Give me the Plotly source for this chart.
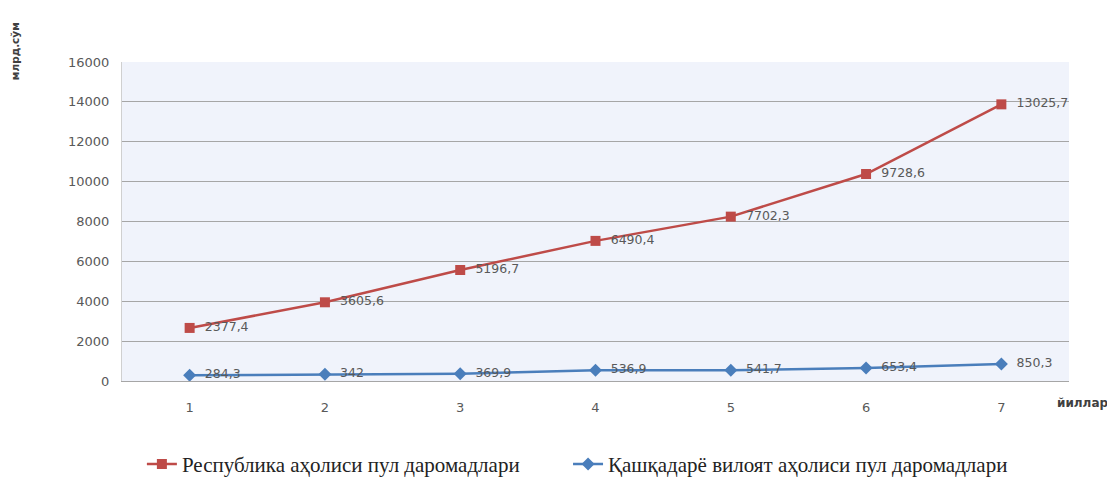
import plotly.graph_objects as go

years = [1, 2, 3, 4, 5, 6, 7]
republic = [2377.4, 3605.6, 5196.7, 6490.4, 7702.3, 9728.6, 13025.7]
region = [284.3, 342, 369.9, 536.9, 541.7, 653.4, 850.3]
name_rep = "Республика аҳолиси пул даромадлари"
name_reg = "Қашқадарё вилоят аҳолиси пул даромадлари"
y_ticks = [0, 2000, 4000, 6000, 8000, 10000, 12000, 14000, 16000]


def fmt(v):
    s = ("%.1f" % v).rstrip("0").rstrip(".")
    return "\u00a0\u00a0" + s.replace(".", ",")


fig = go.Figure()
fig.add_trace(go.Scatter(
    x=years, y=region, name=name_reg, stackgroup="one", fill="none",
    mode="lines+markers+text",
    line=dict(color="#4A7EBB", width=2.5),
    marker=dict(symbol="diamond", size=10, color="#4A7EBB"),
    text=[fmt(v) for v in region], textposition="middle right",
    textfont=dict(family="DejaVu Sans", size=12.5, color="#595959"),
    legend="legend2", cliponaxis=False,
))
fig.add_trace(go.Scatter(
    x=years, y=republic, name=name_rep, stackgroup="one", fill="none",
    mode="lines+markers+text",
    line=dict(color="#BE4B48", width=2.5),
    marker=dict(symbol="square", size=10, color="#BE4B48"),
    text=[fmt(v) for v in republic], textposition="middle right",
    textfont=dict(family="DejaVu Sans", size=12.5, color="#595959"),
    legend="legend", cliponaxis=False,
))

legend_font = dict(family="Liberation Serif", size=21, color="#222222")
fig.update_layout(
    width=1107, height=469,
    margin=dict(l=114, r=46, t=54, b=96, autoexpand=False),
    paper_bgcolor="white",
    plot_bgcolor="#F0F3FB",
    showlegend=True,
    legend=dict(x=0.021, y=0.027, xanchor="left", yanchor="middle", yref="container",
                font=legend_font, bgcolor="rgba(0,0,0,0)"),
    legend2=dict(x=0.471, y=0.027, xanchor="left", yanchor="middle", yref="container",
                 font=legend_font, bgcolor="rgba(0,0,0,0)"),
    xaxis=dict(range=[0.5, 7.5], tickvals=years, ticktext=[str(y) for y in years],
               showgrid=False, zeroline=False, showline=True, linecolor="#A6A6A6",
               linewidth=1, ticks="", ticklabelstandoff=14,
               tickfont=dict(family="DejaVu Sans", size=13, color="#595959")),
    yaxis=dict(range=[0, 16000], tickvals=y_ticks, ticktext=[str(t) for t in y_ticks],
               showgrid=True, gridcolor="#A6A6A6",
               gridwidth=1, zeroline=False, showline=True, linecolor="#D0D0D0",
               ticks="", ticklabelstandoff=9,
               tickfont=dict(family="DejaVu Sans", size=13, color="#595959")),
    annotations=[
        dict(text="<b>йиллар</b>", x=0.985, y=-0.069, xref="paper", yref="paper",
             xanchor="left", yanchor="middle", showarrow=False,
             font=dict(family="DejaVu Sans", size=12, color="#404040")),
        dict(text="<b>млрд.сўм</b>", x=-0.113, y=1.034, xref="paper", yref="paper",
             xanchor="center", yanchor="middle", showarrow=False, textangle=-90,
             font=dict(family="DejaVu Sans", size=10.5, color="#404040")),
    ],
)

fig.write_html("out.html")
